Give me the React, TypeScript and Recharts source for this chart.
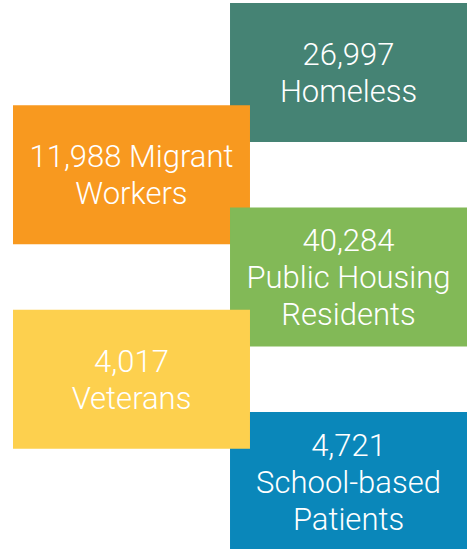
import React from 'react';
import { ComposedChart, XAxis, YAxis, ReferenceArea } from 'recharts';

// data
const CATEGORIES = ['Homeless', 'Migrant Workers', 'Public Housing Residents', 'Veterans', 'School-based Patients'];
const VALUES = [26997, 11988, 40284, 4017, 4721];
const LABEL_LINES = [['Homeless'], ['Migrant', 'Workers'], ['Public Housing', 'Residents'], ['Veterans'], ['School-based', 'Patients']];
const NUMBER_INLINE = [false, true, false, false, false];

// styles
const COLORS = ['#458374', '#F8991F', '#82B957', '#FDD04E', '#0A87BA'];
const BOX_W = 1.092; // in column steps
const BOX_H = 1.36; // in row steps
const DRAW_ORDER = [0, 1, 2, 4, 3];
const FONT = 'Roboto, "Liberation Sans", Arial, sans-serif';
const FONT_SIZE = 31;
const LINE_H = 37;

const rows = CATEGORIES.map((name, i) => ({
  name,
  value: VALUES[i],
  col: i % 2 === 0 ? 1 : 0,
  row: i,
  lines: NUMBER_INLINE[i]
    ? [`${VALUES[i].toLocaleString('en-US')} ${LABEL_LINES[i][0]}`, ...LABEL_LINES[i].slice(1)]
    : [VALUES[i].toLocaleString('en-US'), ...LABEL_LINES[i]],
}));

const BoxLabel = ({ viewBox, lines }: any) => {
  if (!viewBox) return null;
  const { x, y, width, height } = viewBox;
  const cx = x + width / 2;
  const cy = y + height / 2;
  const first = cy - ((lines.length - 1) * LINE_H) / 2 + FONT_SIZE * 0.36;
  return (
    <text
      x={cx}
      y={first}
      textAnchor="middle"
      fill="#ffffff"
      fontFamily={FONT}
      fontWeight={300}
      fontSize={FONT_SIZE}
    >
      {lines.map((l: string, k: number) => (
        <tspan key={k} x={cx} y={first + k * LINE_H}>
          {l}
        </tspan>
      ))}
    </text>
  );
};

export default function App() {
  return (
    <div style={{ position: 'fixed', left: 0, top: 0, width: 471, height: 549, overflow: 'hidden', background: '#fff' }}>
      <ComposedChart width={471} height={552} data={rows} margin={{ top: 3, right: 4, bottom: 1, left: 13 }}>
        <XAxis type="number" dataKey="col" domain={[0, 1 + BOX_W]} hide allowDataOverflow />
        <YAxis type="number" dataKey="row" domain={[0, 4 + BOX_H]} reversed hide allowDataOverflow />
        {DRAW_ORDER.map((i) => {
          const r = rows[i];
          return (
            <ReferenceArea
              key={r.name}
              x1={r.col}
              x2={r.col + BOX_W}
              y1={r.row}
              y2={r.row + BOX_H}
              fill={COLORS[i]}
              fillOpacity={1}
              stroke="none"
              ifOverflow="visible"
              label={(p: any) => <BoxLabel viewBox={p.viewBox} lines={r.lines} />}
            />
          );
        })}
      </ComposedChart>
    </div>
  );
}
